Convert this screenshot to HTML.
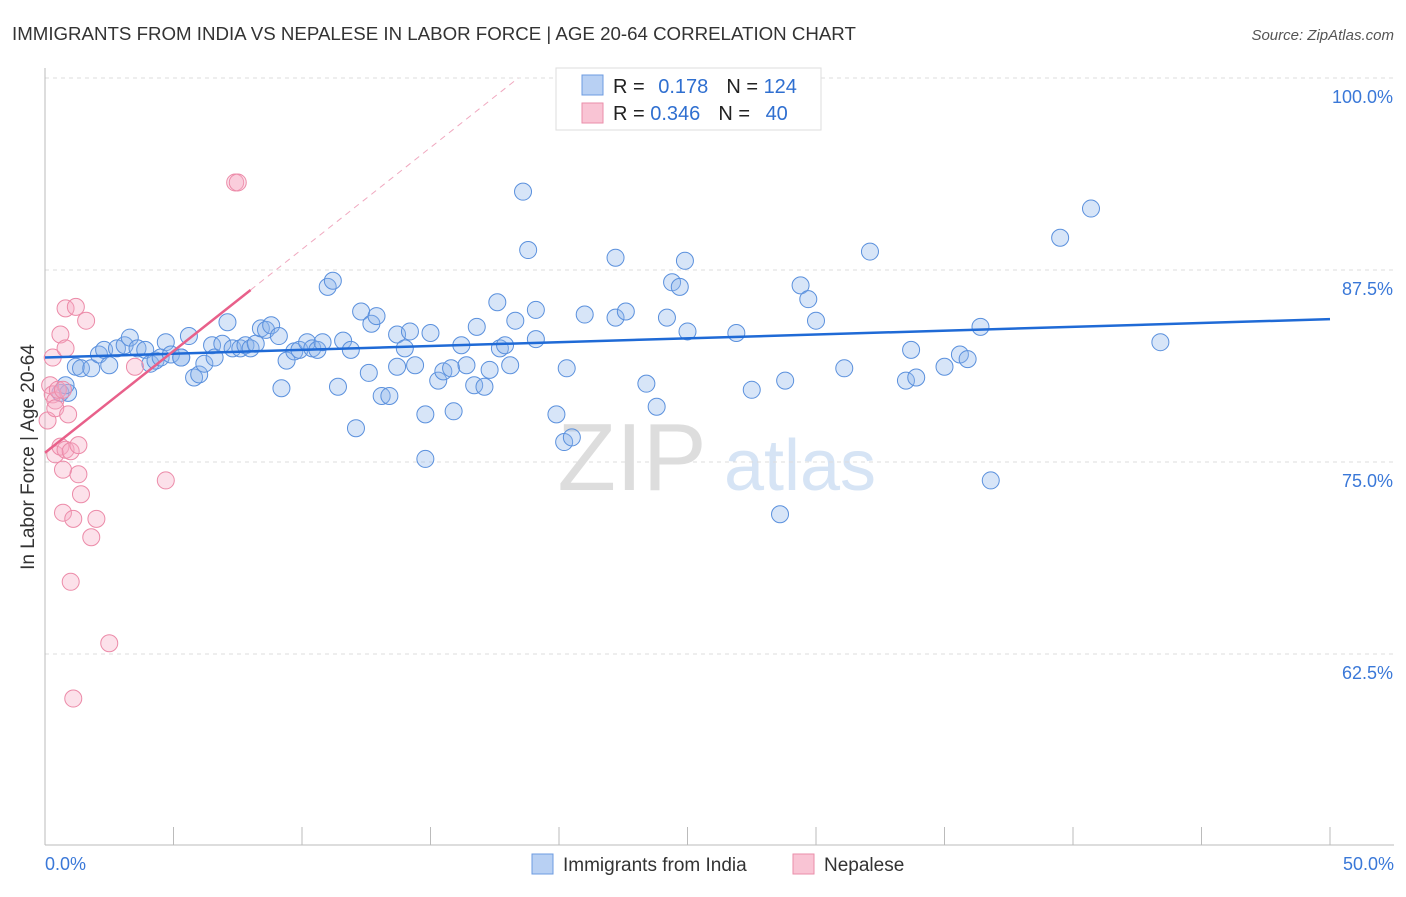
<!DOCTYPE html>
<html><head><meta charset="utf-8"><style>
body{margin:0;background:#fff;font-family:"Liberation Sans",sans-serif;}
svg text{font-family:"Liberation Sans",sans-serif;}
</style></head><body>
<svg id="chart" width="1406" height="892" viewBox="0 0 1406 892" xmlns="http://www.w3.org/2000/svg">
<text x="12" y="40" font-size="18.7" fill="#333">IMMIGRANTS FROM INDIA VS NEPALESE IN LABOR FORCE | AGE 20-64 CORRELATION CHART</text>
<text x="1394" y="40" font-size="15" fill="#555" font-style="italic" text-anchor="end">Source: ZipAtlas.com</text>
<text x="34" y="457" font-size="19" fill="#333" text-anchor="middle" transform="rotate(-90 34 457)">In Labor Force | Age 20-64</text>
<g><text x="632" y="490" font-size="96" fill="#ddd" font-family="Liberation Serif" text-anchor="middle">ZIP</text><text x="800" y="490" font-size="72" fill="#d6e4f5" text-anchor="middle">atlas</text></g>
<g id="grid"></g><g id="axes"></g><g id="marks"></g>
<g>
<rect x="556" y="68" width="265" height="62" fill="#fff" stroke="#ddd"/>
<rect x="582" y="75" width="21" height="20" fill="#b8d0f3" stroke="#6c9be0"/>
<rect x="582" y="103" width="21" height="20" fill="#f9c4d4" stroke="#ea8eaa"/>
<text x="613" y="93" font-size="20" fill="#222">R = <tspan fill="#2f6fd0" dx="8">0.178</tspan><tspan fill="#222" dx="18">N = </tspan><tspan fill="#2f6fd0">124</tspan></text>
<text x="613" y="120" font-size="20" fill="#222">R = <tspan fill="#2f6fd0">0.346</tspan><tspan fill="#222" dx="18">N = </tspan><tspan fill="#2f6fd0" dx="10">40</tspan></text>
</g>
<g>
<rect x="532" y="854" width="21" height="20" fill="#b8d0f3" stroke="#6c9be0"/>
<text x="563" y="871" font-size="19" fill="#333">Immigrants from India</text>
<rect x="793" y="854" width="21" height="20" fill="#f9c4d4" stroke="#ea8eaa"/>
<text x="824" y="871" font-size="19" fill="#333">Nepalese</text>
</g>
</svg>
<script>
const blueX=[0.6,0.9,0.8,1.2,1.4,1.8,2.1,2.3,2.5,2.8,3.1,3.3,3.6,3.9,4.1,4.3,4.5,4.7,4.9,5.3,5.3,5.6,5.8,6.0,6.2,6.5,6.6,6.9,7.1,7.3,7.6,7.8,8.0,8.2,8.4,8.6,8.8,9.1,9.2,9.4,9.7,9.9,10.2,10.4,10.6,10.8,11.0,11.2,11.4,11.6,11.9,12.1,12.3,12.6,12.7,12.9,13.1,13.4,13.7,13.7,14.0,14.2,14.4,14.8,14.8,15.0,15.3,15.5,15.8,15.9,16.2,16.4,16.7,16.8,17.1,17.3,17.6,17.7,17.9,18.1,18.3,18.6,18.8,19.1,19.1,19.9,20.2,20.5,20.3,21.0,22.2,22.2,22.6,23.4,23.8,24.2,24.4,24.7,24.9,25.0,26.9,27.5,28.6,28.8,29.4,29.7,30.0,31.1,32.1,33.5,33.7,33.9,35.0,35.6,35.9,36.4,36.8,39.5,40.7,43.4];
const blueY=[79.5,79.5,80.0,81.2,81.1,81.1,82.0,82.3,81.3,82.4,82.6,83.1,82.4,82.3,81.4,81.6,81.8,82.8,82.0,81.8,81.8,83.2,80.5,80.7,81.4,82.6,81.8,82.7,84.1,82.4,82.4,82.6,82.4,82.7,83.7,83.6,83.9,83.2,79.8,81.6,82.2,82.3,82.8,82.4,82.3,82.8,86.4,86.8,79.9,82.9,82.3,77.2,84.8,80.8,84.0,84.5,79.3,79.3,81.2,83.3,82.4,83.5,81.3,78.1,75.2,83.4,80.3,80.9,81.1,78.3,82.6,81.3,80.0,83.8,79.9,81.0,85.4,82.4,82.6,81.3,84.2,92.6,88.8,84.9,83.0,78.1,76.3,76.6,81.1,84.6,88.3,84.4,84.8,80.1,78.6,84.4,86.7,86.4,88.1,83.5,83.4,79.7,71.6,80.3,86.5,85.6,84.2,81.1,88.7,80.3,82.3,80.5,81.2,82.0,81.7,83.8,73.8,89.6,91.5,82.8];
const pinkX=[0.1,0.2,0.3,0.4,0.4,0.3,0.5,0.7,0.4,0.6,0.8,1.0,0.9,0.6,0.8,0.8,1.2,1.6,1.3,1.3,1.4,0.7,0.7,1.1,2.0,1.8,1.0,2.5,1.1,3.5,4.7,7.4,7.5];
const pinkY=[77.7,80.0,79.4,79.0,78.5,81.8,79.7,79.7,75.5,76.0,75.8,75.7,78.1,83.3,82.4,85.0,85.1,84.2,76.1,74.2,72.9,74.5,71.7,71.3,71.3,70.1,67.2,63.2,59.6,81.2,73.8,93.2,93.2];
const blueTrend=[81.8,84.3];
const pinkTrend=[75.6,86.2];
const yTicks=[100,87.5,75,62.5];
const yTickLabels=["100.0%","87.5%","75.0%","62.5%"];
const xTicks=[0,5,10,15,20,25,30,35,40,45,50];
const NS="http://www.w3.org/2000/svg";
const sx=v=>45+v/50*1285;
const sy=v=>78+(100-v)/12.5*192;
function mk(tag,attrs,parent){const e=document.createElementNS(NS,tag);for(const k in attrs)e.setAttribute(k,attrs[k]);document.getElementById(parent).appendChild(e);return e;}
yTicks.forEach((t,i)=>{
 const g=mk('line',{x1:45,x2:1394,y1:sy(t),y2:sy(t),stroke:'#ddd','stroke-dasharray':'4 4'},'grid');
 
 
 const l=mk('text',{x:1393,y:sy(t)+25,'font-size':18,fill:'#3a78d8','text-anchor':'end'},'axes');
 l.textContent=yTickLabels[i];
 
 
});
const ya=mk('line',{x1:45,x2:45,y1:68,y2:845,stroke:'#bbb'},'axes');


const xa=mk('line',{x1:45,x2:1394,y1:845,y2:845,stroke:'#bbb'},'axes');


xTicks.forEach(t=>{
 const k=mk('line',{x1:sx(t),x2:sx(t),y1:827,y2:845,stroke:'#bbb'},'axes');
 
 
});
const x0=mk('text',{x:45,y:870,'font-size':18,fill:'#3a78d8'},'axes');x0.textContent='0.0%';


const x1=mk('text',{x:1394,y:870,'font-size':18,fill:'#3a78d8','text-anchor':'end'},'axes');x1.textContent='50.0%';


blueX.forEach((x,i)=>{
 const c=mk('circle',{cx:sx(x),cy:sy(blueY[i]),r:8.5,fill:'rgba(140,180,235,0.35)',stroke:'#5a90dd','stroke-width':1},'marks');
 
 
});
pinkX.forEach((x,i)=>{
 const c=mk('circle',{cx:sx(x),cy:sy(pinkY[i]),r:8.5,fill:'rgba(245,170,195,0.35)',stroke:'#ec8aa8','stroke-width':1},'marks');
 
 
});
const bt=mk('line',{x1:sx(0),y1:sy(blueTrend[0]),x2:sx(50),y2:sy(blueTrend[1]),stroke:'#1f6ad6','stroke-width':2.5},'marks');


const slope=(pinkTrend[1]-pinkTrend[0])/8;
const xEnd=(100-pinkTrend[0])/slope;
const pd=mk('line',{x1:sx(8),y1:sy(pinkTrend[1]),x2:sx(xEnd),y2:sy(100),stroke:'#f0a8bf','stroke-width':1,'stroke-dasharray':'6 5'},'marks');


const pt=mk('line',{x1:sx(0),y1:sy(pinkTrend[0]),x2:sx(8),y2:sy(pinkTrend[1]),stroke:'#e8608a','stroke-width':2.5},'marks');


</script>
</body></html>
